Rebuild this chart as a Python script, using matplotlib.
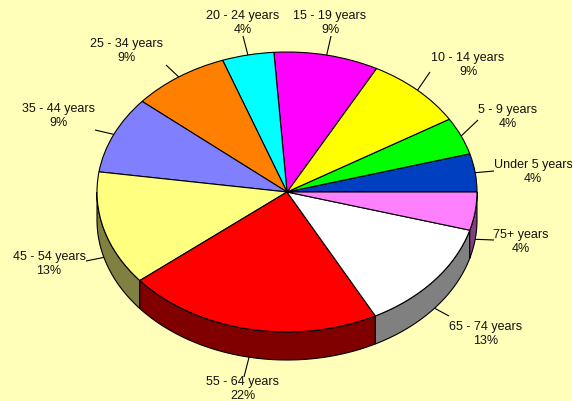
import numpy as np
import matplotlib
matplotlib.use("Agg")
import matplotlib.pyplot as plt

# age groups, counter-clockwise from 3 o'clock
ages = ["Under 5 years", "5 - 9 years", "10 - 14 years", "15 - 19 years",
        "20 - 24 years", "25 - 34 years", "35 - 44 years", "45 - 54 years",
        "55 - 64 years", "65 - 74 years", "75+ years"]
shares = [4.4, 4.3, 8.5, 8.9, 4.4, 8.3, 8.9, 13.2, 21.8, 12.9, 4.4]
share_labels = ["4%", "4%", "9%", "9%", "4%", "9%", "9%", "13%", "22%", "13%", "4%"]

top_colors = ["#0040c0", "#00ff00", "#ffff00", "#ff00ff", "#00ffff", "#ff8000",
              "#8080ff", "#ffff80", "#ff0000", "#ffffff", "#ff80ff"]
side_colors = ["#002060", "#008000", "#808000", "#800080", "#008080", "#804000",
               "#404080", "#808040", "#800000", "#808080", "#804080"]

# label centres and leader ends, in pixels of the 572x402 picture
label_xy = [(533, 171), (508, 116), (468, 64), (330, 22), (243, 22), (127, 50),
            (58, 115), (49, 263), (243, 388), (486, 333), (521, 241)]
leader_xy = [(494, 171), (478, 120), (430, 72), (331, 36), (243, 36), (166, 65),
             (95, 130), (86, 261), (244, 377), (449, 316), (494, 240)]

W, H = 572, 402
CX, CY, RX, RY = 287, 192, 190, 140
DEPTH = 28 / RY
BG = "#ffffb9"

plt.rcParams["font.family"] = ["Liberation Sans", "DejaVu Sans"]


def to_data(px, py):
    return (px - CX) / RX, (CY - py) / RY


fig = plt.figure(figsize=(W / 100, H / 100), dpi=100, facecolor=BG)
ax = fig.add_axes([0, 0, 1, 1])

edges = np.cumsum([0] + shares) / sum(shares) * 360

# side wall first, only the part facing us
for i in range(len(shares)):
    t1 = max(edges[i], 180)
    t2 = edges[i + 1]
    if t2 <= t1:
        continue
    t = np.radians(np.linspace(t1, t2, 80))
    xs = np.r_[np.cos(t), np.cos(t[::-1])]
    ys = np.r_[np.sin(t), np.sin(t[::-1]) - DEPTH]
    ax.fill(xs, ys, facecolor=side_colors[i], edgecolor="black", lw=0.8, zorder=1)

ax.pie(shares, colors=top_colors, startangle=0, counterclock=True, radius=1,
       wedgeprops={"edgecolor": "black", "linewidth": 0.8, "zorder": 2})

ax.set_aspect("auto")
ax.set_xlim(to_data(0, 0)[0], to_data(W, 0)[0])
# one pixel lower than the nominal grid, agg rounds the other way
ax.set_ylim(to_data(0, H - 1)[1], to_data(0, -1)[1])
ax.axis("off")

for i in range(len(ages)):
    mid = np.radians((edges[i] + edges[i + 1]) / 2)
    x0, y0 = np.cos(mid), np.sin(mid)
    if y0 < -0.05:
        y0 -= DEPTH
    x1, y1 = to_data(*leader_xy[i])
    ax.plot([x0, x1], [y0, y1], color="black", lw=0.8, zorder=3, solid_capstyle="butt")
    tx, ty = to_data(*label_xy[i])
    ax.text(tx, ty, ages[i] + "\n" + share_labels[i], ha="center", va="center",
            fontsize=9, color="#111111", linespacing=1.3, zorder=4, clip_on=False)

fig.savefig("out.png", dpi=100, facecolor=BG)
